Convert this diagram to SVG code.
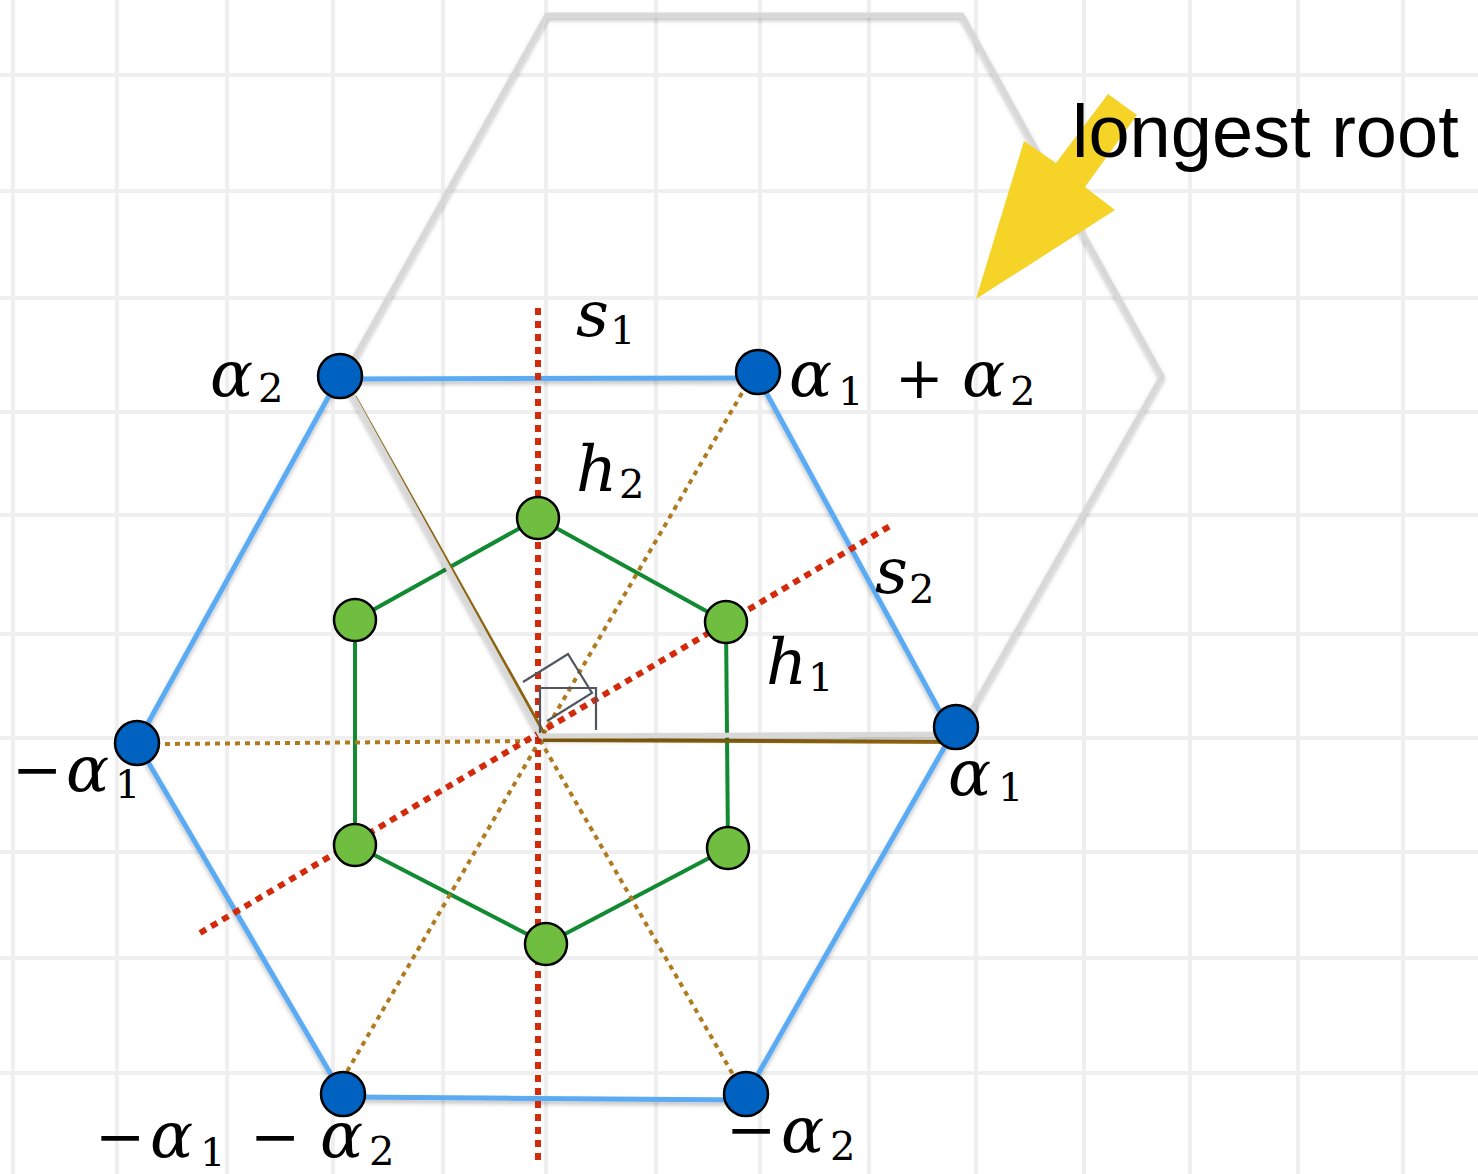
<svg xmlns="http://www.w3.org/2000/svg" width="1478" height="1174" viewBox="0 0 1478 1174">
<defs>
<filter id="sh" x="-10%" y="-10%" width="120%" height="120%"><feDropShadow dx="0" dy="3" stdDeviation="2" flood-color="#000" flood-opacity="0.25"/></filter>
</defs>
<style>
.grid line{stroke:#efefef;stroke-width:4}
.blue{stroke:#5aabf3;stroke-width:5;fill:none;stroke-linecap:round}
.green{stroke:#128a32;stroke-width:4;fill:none}
.red{stroke:#d42a0c;stroke-width:6;stroke-dasharray:7 6;fill:none}
.bdot{stroke:#b07a1e;stroke-width:4;stroke-dasharray:5 5;fill:none}
.bsol{stroke:#8f650e;stroke-width:4;fill:none}
.gray{stroke:#d8d8d8;stroke-width:5;fill:none;stroke-linejoin:miter}
.rt{stroke:#4f5660;stroke-width:2.2;fill:none}
.bn{fill:#0062c0;stroke:#000;stroke-width:2.5}
.gn{fill:#6fbe40;stroke:#000;stroke-width:2.5}
.m{font-family:"DejaVu Serif",serif;font-style:italic;font-size:64px;fill:#000}
.sub{font-family:"DejaVu Serif",serif;font-style:normal;font-size:40px;fill:#000}
.op{font-family:"DejaVu Serif",serif;font-style:normal;font-size:58px;fill:#000}
.mn{font-family:"DejaVu Serif",serif;font-style:normal;font-size:60px;fill:#000}
.lbl{font-family:"Liberation Sans",Arial,sans-serif;font-size:74px;fill:#000}
</style>
<rect width="1478" height="1174" fill="#fff"/>
<g class="grid">
<line x1="13" y1="0" x2="13" y2="1174"/><line x1="117" y1="0" x2="117" y2="1174"/><line x1="227" y1="0" x2="227" y2="1174"/><line x1="333" y1="0" x2="333" y2="1174"/><line x1="443" y1="0" x2="443" y2="1174"/><line x1="546" y1="0" x2="546" y2="1174"/><line x1="656" y1="0" x2="656" y2="1174"/><line x1="760" y1="0" x2="760" y2="1174"/><line x1="869" y1="0" x2="869" y2="1174"/><line x1="976" y1="0" x2="976" y2="1174"/><line x1="1084" y1="0" x2="1084" y2="1174"/><line x1="1190" y1="0" x2="1190" y2="1174"/><line x1="1298" y1="0" x2="1298" y2="1174"/><line x1="1403" y1="0" x2="1403" y2="1174"/>
<line x1="0" y1="75" x2="1478" y2="75"/><line x1="0" y1="191" x2="1478" y2="191"/><line x1="0" y1="298" x2="1478" y2="298"/><line x1="0" y1="412" x2="1478" y2="412"/><line x1="0" y1="515" x2="1478" y2="515"/><line x1="0" y1="634" x2="1478" y2="634"/><line x1="0" y1="738" x2="1478" y2="738"/><line x1="0" y1="852" x2="1478" y2="852"/><line x1="0" y1="958" x2="1478" y2="958"/><line x1="0" y1="1073" x2="1478" y2="1073"/>
</g>
<g id="connectors">
<g filter="url(#sh)">
<line class="blue" x1="340" y1="379" x2="758" y2="378"/>
<line class="blue" x1="755" y1="372" x2="950" y2="730"/>
<line class="blue" x1="956" y1="727" x2="745" y2="1097"/>
<line class="blue" x1="745" y1="1100" x2="343" y2="1097"/>
<line class="blue" x1="343" y1="1095" x2="137" y2="743"/>
<line class="blue" x1="137" y1="743" x2="340" y2="376"/>
</g>
<polygon class="green" points="538,518 726,622 728,848 546,944 355,845 355,620"/>
<line class="bdot" x1="742" y1="393" x2="345" y2="1075"/>
<line class="bdot" x1="540" y1="740" x2="735" y2="1078"/>
<line class="bdot" x1="540" y1="741" x2="160" y2="744"/>
<line class="red" x1="538" y1="308" x2="538" y2="1162"/>
<line class="red" x1="200" y1="933" x2="890" y2="526"/>
<line class="bsol" x1="354.5" y1="396.5" x2="546.5" y2="738.5"/>
<line class="bsol" x1="543" y1="740" x2="955" y2="742"/>
<polygon class="gray" filter="url(#sh)" points="343,378 547,15 962,15 1162,376 958,734 541,736"/>
<polyline class="rt" points="540,733 540,688 596,688 596,730"/>
<polyline class="rt" points="523,682 568,654 592,693 547,721"/>
<polygon fill="#f5d327" points="976,299 1024,141 1056,163 1108,94 1137,115 1085,187 1115,210"/>
</g>
<g id="node-alpha2"><circle class="bn" cx="340" cy="376" r="22"/><text class="m" x="210" y="396">α</text><text class="sub" x="258" y="402">2</text></g>
<g id="node-alpha1plus2"><circle class="bn" cx="758" cy="372" r="22"/><text class="m" x="789" y="396">α</text><text class="sub" x="838" y="405">1</text><text class="op" x="895" y="398">+</text><text class="m" x="962" y="396">α</text><text class="sub" x="1010" y="405">2</text></g>
<g id="node-alpha1"><circle class="bn" cx="956" cy="727" r="22"/><text class="m" x="948" y="795">α</text><text class="sub" x="998" y="801">1</text></g>
<g id="node-neg-alpha1"><circle class="bn" cx="137" cy="743" r="22"/><text class="mn" x="12" y="790">−</text><text class="m" x="66" y="791">α</text><text class="sub" x="115" y="798">1</text></g>
<g id="node-neg-alpha1-alpha2"><circle class="bn" cx="343" cy="1094" r="22"/><text class="mn" x="95" y="1157">−</text><text class="m" x="150" y="1157">α</text><text class="sub" x="200" y="1166">1</text><text class="mn" x="250" y="1157">−</text><text class="m" x="320" y="1157">α</text><text class="sub" x="369" y="1165">2</text></g>
<g id="node-neg-alpha2"><circle class="bn" cx="746" cy="1094" r="22"/><text class="mn" x="726" y="1150">−</text><text class="m" x="781" y="1152">α</text><text class="sub" x="830" y="1160">2</text></g>
<g id="node-h2"><circle class="gn" cx="538" cy="518" r="21"/><text class="m" x="576" y="491">h</text><text class="sub" x="619" y="498">2</text></g>
<g id="node-h1"><circle class="gn" cx="726" cy="622" r="21"/><text class="m" x="766" y="684">h</text><text class="sub" x="808" y="691">1</text></g>
<g id="node-g3"><circle class="gn" cx="728" cy="848" r="21"/></g>
<g id="node-g4"><circle class="gn" cx="546" cy="944" r="21"/></g>
<g id="node-g5"><circle class="gn" cx="355" cy="845" r="21"/></g>
<g id="node-g6"><circle class="gn" cx="355" cy="620" r="21"/></g>
<g id="label-s1"><text class="m" x="576" y="336">s</text><text class="sub" x="610" y="344">1</text></g>
<g id="label-s2"><text class="m" x="875" y="593">s</text><text class="sub" x="909" y="603">2</text></g>
<g id="label-longest"><text class="lbl" x="1072" y="157">longest root</text></g>
</svg>
